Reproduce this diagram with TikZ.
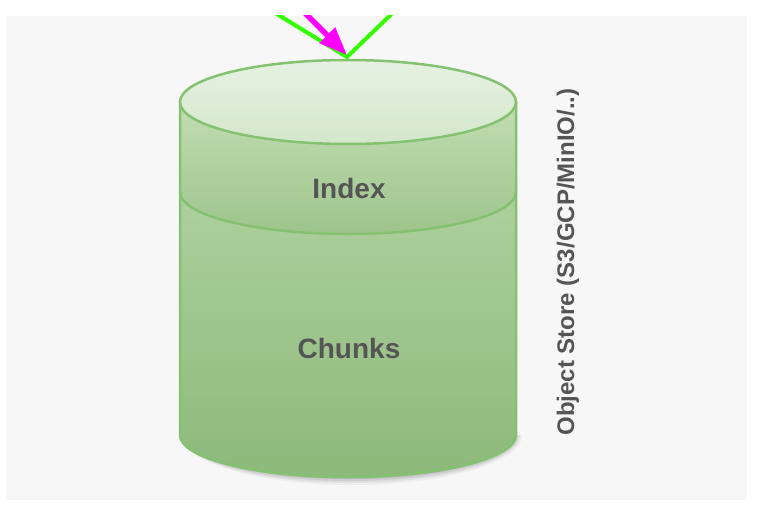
\documentclass[tikz,border=0pt]{standalone}
\usepackage{fontspec}
\setmainfont{Liberation Sans}
\usetikzlibrary{arrows.meta}
\definecolor{panel}{HTML}{F7F7F7}
\definecolor{cylstroke}{HTML}{84C170}
\definecolor{toptop}{HTML}{E6F1E1}
\definecolor{topbot}{HTML}{D3E7CB}
\definecolor{idxtop}{HTML}{C2DEB3}
\definecolor{idxbot}{HTML}{9EC48C}
\definecolor{chtop}{HTML}{B8D7A8}
\definecolor{chbot}{HTML}{8DB97B}
\definecolor{txt}{HTML}{555555}
\definecolor{lgreen}{HTML}{33FF00}
\definecolor{lmag}{HTML}{FF00FF}
\tikzset{
  cyl/.style={draw=cylstroke, line width=2.5pt},
  lbl/.style={text=txt, font=\bfseries\fontsize{28}{32}\selectfont, inner sep=0pt},
  sidelbl/.style={text=txt, font=\bfseries\fontsize{24}{28}\selectfont, inner sep=0pt, rotate=90},
  gline/.style={draw=lgreen, line width=4pt},
  marrow/.style={draw=lmag, line width=5.5pt, -{Triangle[length=28pt,width=21pt]}},
}
\begin{document}
\begin{tikzpicture}[x=1pt,y=1pt]
\useasboundingbox (0,0) rectangle (758,507);
\fill[white] (0,0) rectangle (758,507);
\fill[panel] (6,7) rectangle (747,491);
% shadow
\foreach \o/\a in {8/0.04,6/0.06,4/0.08,2/0.1}{
  \fill[black,opacity=\a] (182,72) arc[start angle=180,end angle=360,x radius=166+\o/2,y radius=42+\o] -- cycle;
}
% body (chunks)
\shade[top color=chtop,bottom color=chbot] (180,405) -- (180,72) arc[start angle=180,end angle=360,x radius=168,y radius=42] -- (516,405) -- cycle;
% index band
\shade[top color=idxtop,bottom color=idxbot] (180,405) -- (180,315) arc[start angle=180,end angle=360,x radius=168,y radius=42] -- (516,405) -- cycle;
\draw[cyl] (180,315) arc[start angle=180,end angle=360,x radius=168,y radius=42];
\draw[cyl] (180,405) -- (180,72) arc[start angle=180,end angle=360,x radius=168,y radius=42] -- (516,405);
% top ellipse
\shade[top color=toptop,bottom color=topbot] (348,405) ellipse[x radius=168,y radius=42];
\draw[cyl] (348,405) ellipse[x radius=168,y radius=42];
% labels
\node[lbl] (index) at (349,319) {Index};
\node[lbl] (chunks) at (349,159) {Chunks};
\node[sidelbl] (store) at (568,245) {Object Store (S3/GCP/MinIO/..)};
% connectors
\coordinate (apex) at (347,450);
\coordinate (gl) at (254,507);
\coordinate (gr) at (406,507);
\coordinate (ms) at (282,517);
\coordinate (mt) at (347,452);
\begin{scope}
\clip (6,7) rectangle (747,491);
\draw[gline] (gl) -- (apex) -- (gr);
\draw[marrow] (ms) -- (mt);
\end{scope}
\end{tikzpicture}
\end{document}
